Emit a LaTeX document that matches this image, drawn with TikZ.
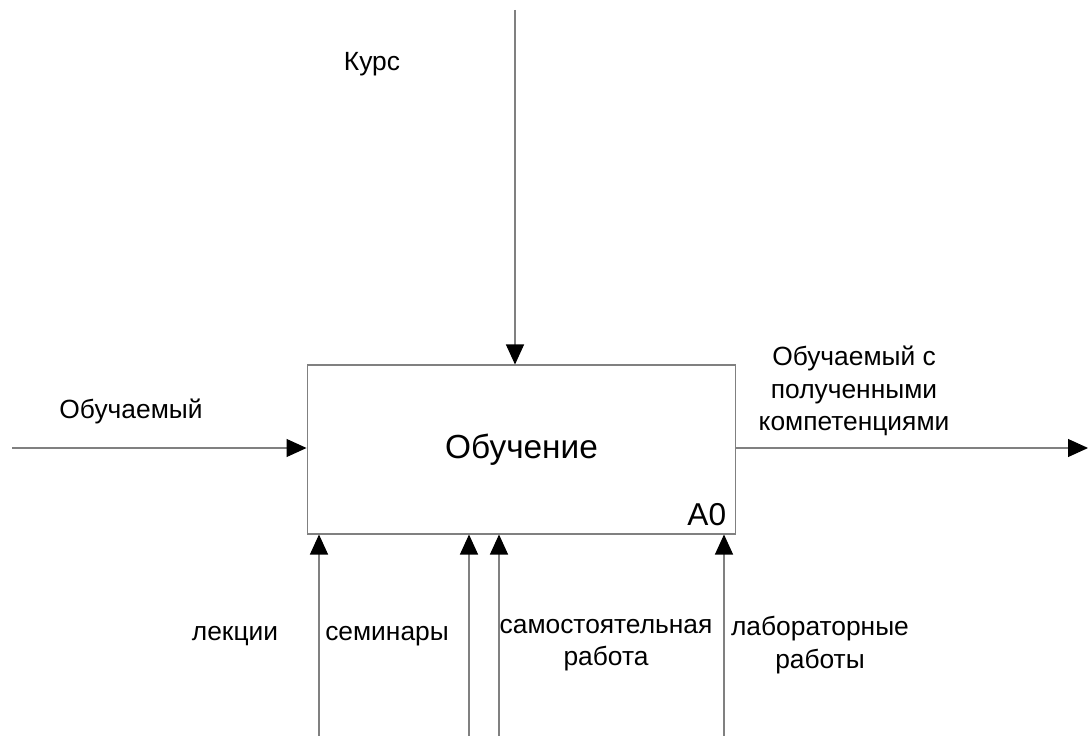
\documentclass[tikz,border=0pt]{standalone}
\usepackage{fontspec}
\setmainfont{Liberation Sans}
\usepackage{tikz}
\usetikzlibrary{arrows.meta,positioning}

\begin{document}
\begin{tikzpicture}[x=0.02cm, y=-0.02cm,
  every node/.style={font=\fontsize{15}{18.5}\selectfont},
  lbl/.style={align=center, inner sep=0pt},
  arr/.style={draw=black!50, line width=0.6pt, -{Triangle[length=0.4cm,width=0.36cm,fill=black,color=black]}}]
  \useasboundingbox (0,0) rectangle (1088,736);
  % activity box
  \node[draw=black!50, line width=0.6pt, minimum width=8.58cm, minimum height=3.38cm,
    inner sep=0pt, font=\fontsize{19}{22}\selectfont] (box) at (521.5,449.5) {Обучение};
  \node[anchor=south east, inner sep=0pt, font=\fontsize{18}{21}\selectfont] (num)
    at ([xshift=-0.2cm,yshift=0.16cm]box.south east) {A0};
  % ends of the arrows
  \coordinate (ctrl) at (515,10);
  \coordinate (inp) at (12,448);
  \coordinate (outp) at (1088,448);
  \coordinate (mech1) at (319,736);
  \coordinate (mech2) at (469,736);
  \coordinate (mech3) at (499,736);
  \coordinate (mech4) at (724,736);
  \draw[arr] (ctrl) -- (ctrl |- box.north);
  \draw[arr] (inp) -- (inp -| box.west);
  \draw[arr] (outp -| box.east) -- (outp);
  \foreach \m in {mech1,mech2,mech3,mech4}
    \draw[arr] (\m) -- (\m |- box.south);
  % labels
  \node[lbl] (kurs) at (372,64) {Курс};
  \node[lbl] (obuch) at (131,411) {Обучаемый};
  \node[lbl] (res) at (854,391) {Обучаемый с\\полученными\\компетенциями};
  \node[lbl] (lek) at (235,636) {лекции};
  \node[lbl] (sem) at (387,636) {семинары};
  \node[lbl] (samo) at (606,645) {самостоятельная\\работа};
  \node[lbl] (lab) at (820,645) {лабораторные\\работы};
\end{tikzpicture}
\end{document}
